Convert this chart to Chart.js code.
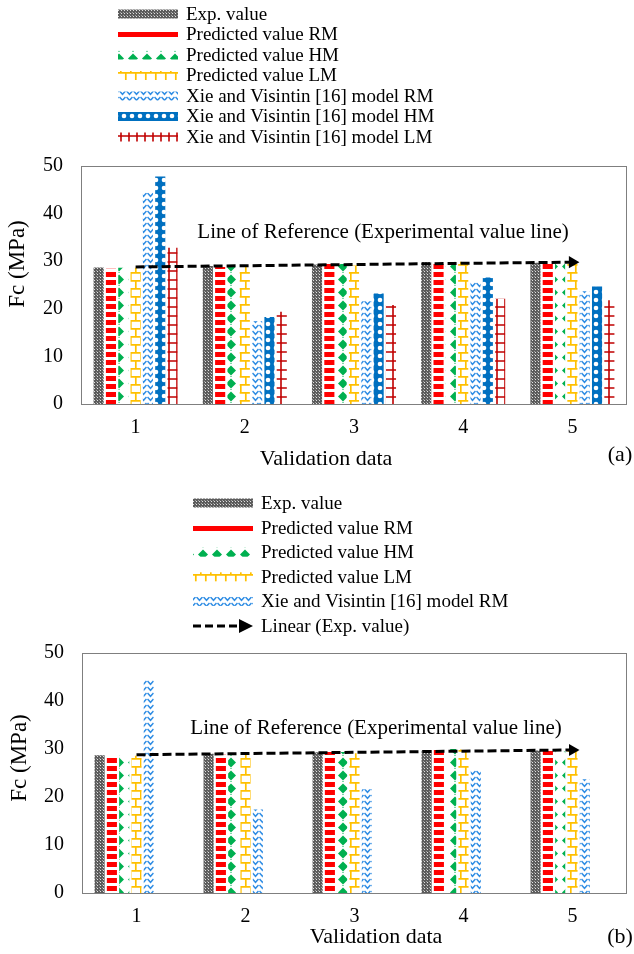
<!DOCTYPE html>
<html>
<head>
<meta charset="utf-8">
<script src="https://cdn.jsdelivr.net/npm/chart.js@4.4.0/dist/chart.umd.min.js"></script>
<style>
  body { margin: 0; background: #fff; }
  canvas { display: block; }
</style>
</head>
<body>
<canvas id="chartA" width="634" height="470"></canvas>
<canvas id="chartB" width="634" height="484"></canvas>
<script>
// ---- data ----
const categories = ['1', '2', '3', '4', '5'];
const expValue   = [28.7, 29.0, 29.3, 29.8, 29.7];
const predRM     = [28.4, 28.8, 29.4, 30.0, 29.6];
const predHM     = [28.6, 28.8, 29.4, 30.0, 29.5];
const predLM     = [28.6, 28.8, 29.1, 29.9, 29.7];
const xieRM      = [44.4, 17.4, 21.6, 25.5, 23.7];
const xieHM      = [47.8, 18.3, 23.2, 26.6, 24.7];
const xieLM      = [32.8, 19.4, 20.8, 22.1, 21.8];
const trendLine  = [28.8, null, null, null, 29.8]; // Linear (Exp. value), end points

const serif = "'Liberation Serif', 'Times New Roman', serif";

// ---- Excel-like fill patterns ----
function makePattern(w, h, draw) {
  const c = document.createElement('canvas');
  c.width = w; c.height = h;
  const g = c.getContext('2d');
  g.fillStyle = '#fff';
  g.fillRect(0, 0, w, h);
  draw(g);
  return g.createPattern(c, 'repeat');
}

const patExp = makePattern(3, 3, g => {
  g.fillStyle = '#5c5c5c'; g.fillRect(0, 0, 3, 3);
  g.fillStyle = '#e2e2e2'; g.fillRect(1, 1, 1, 1);
  g.fillStyle = '#a0a0a0'; g.fillRect(0, 0, 1, 1);
});
const patRM = makePattern(4, 8, g => {
  g.fillStyle = '#ff0000'; g.fillRect(0, 0, 4, 5);
});
const patHM = makePattern(14, 13, g => {
  g.fillStyle = '#00b050';
  g.beginPath();
  g.moveTo(7, 1.5); g.lineTo(12, 6.5); g.lineTo(7, 11.5); g.lineTo(2, 6.5);
  g.closePath(); g.fill();
  g.fillRect(6.5, 12, 1, 1);
});
const patLM = makePattern(10, 16, g => {
  g.strokeStyle = '#ffc000'; g.lineWidth = 1.7;
  g.beginPath();
  g.moveTo(0, 0.8); g.lineTo(10, 0.8);
  g.moveTo(0, 8.8); g.lineTo(10, 8.8);
  g.moveTo(0.8, 0); g.lineTo(0.8, 8.8);
  g.moveTo(5.8, 8.8); g.lineTo(5.8, 16);
  g.stroke();
});
const patXieRM = makePattern(7, 6, g => {
  g.strokeStyle = '#2f8de4'; g.lineWidth = 1.5;
  g.beginPath();
  g.moveTo(0.5, 1); g.lineTo(3.5, 4.3); g.lineTo(6.5, 1);
  g.stroke();
});
const patXieHM = makePattern(8, 8, g => {
  g.fillStyle = '#0070c0'; g.fillRect(0, 0, 8, 8);
  g.fillStyle = '#fff';
  g.beginPath(); g.arc(4, 4, 2.3, 0, Math.PI * 2); g.fill();
});
const patXieLM = makePattern(8, 9, g => {
  g.strokeStyle = '#c00000'; g.lineWidth = 1.6;
  g.beginPath();
  g.moveTo(1, 0); g.lineTo(1, 9);
  g.moveTo(0, 1); g.lineTo(8, 1);
  g.stroke();
});

function bar(label, data, pattern, inLegend = true) {
  return { type: 'bar', label, data, backgroundColor: pattern, borderWidth: 0, order: 1, inLegend };
}

function trend(inLegend) {
  return {
    type: 'line', label: 'Linear (Exp. value)', data: trendLine, spanGaps: true,
    borderColor: '#000', borderWidth: 3, borderDash: [9, 4], tension: 0,
    pointRadius: [0, 0, 0, 0, 7], pointStyle: 'triangle', rotation: 90,
    pointBackgroundColor: '#000', pointBorderWidth: 0, order: 0, inLegend, isTrend: true
  };
}

// frame, legend column and free texts
const figureDecor = {
  id: 'figureDecor',
  beforeDraw(chart) {
    const ctx = chart.ctx;
    ctx.save(); ctx.fillStyle = '#fff';
    ctx.fillRect(0, 0, chart.width, chart.height); ctx.restore();
  },
  afterDatasetsDraw(chart, args, o) {
    const ctx = chart.ctx, a = chart.chartArea;
    ctx.save();
    ctx.strokeStyle = '#7f7f7f'; ctx.lineWidth = 1;
    ctx.strokeRect(Math.round(a.left) + 0.5, Math.round(a.top) + 0.5,
      Math.round(a.right - a.left) - 1, Math.round(a.bottom - a.top));

    ctx.fillStyle = '#000';
    ctx.textAlign = 'center'; ctx.textBaseline = 'middle';
    for (const t of o.texts) {
      ctx.font = t.size + 'px ' + serif;
      ctx.save();
      ctx.translate(t.x, t.y);
      if (t.rotate) ctx.rotate(-Math.PI / 2);
      ctx.fillText(t.text, 0, 0);
      ctx.restore();
    }

    // legend, one item per row
    ctx.textAlign = 'left';
    ctx.font = '19px ' + serif;
    let y = o.legend.y;
    chart.data.datasets.forEach(ds => {
      if (!ds.inLegend) return;
      const x = o.legend.x;
      if (ds.isTrend) {
        ctx.save();
        ctx.strokeStyle = '#000'; ctx.lineWidth = 3; ctx.setLineDash([8, 4]);
        ctx.beginPath(); ctx.moveTo(x, y); ctx.lineTo(x + 48, y); ctx.stroke();
        ctx.setLineDash([]);
        ctx.beginPath(); ctx.moveTo(x + 60, y); ctx.lineTo(x + 46, y - 7); ctx.lineTo(x + 46, y + 7);
        ctx.closePath(); ctx.fill();
        ctx.restore();
      } else {
        ctx.fillStyle = ds.backgroundColor;
        ctx.fillRect(x, y - 4.5, 60, 9);
      }
      ctx.fillStyle = '#000';
      ctx.fillText(ds.label, x + 68, y + 1);
      y += o.legend.gap;
    });
    ctx.restore();
  }
};

function makeChart(id, datasets, L) {
  return new Chart(document.getElementById(id), {
    data: { labels: categories, datasets },
    options: {
      responsive: false,
      animation: false,
      layout: { padding: { top: L.top, right: 1, left: 0, bottom: 0 } },
      datasets: { bar: { categoryPercentage: 0.79, barPercentage: 0.82 } },
      scales: {
        x: {
          grid: { display: false, drawTicks: false },
          border: { display: false },
          ticks: { color: '#000', padding: 12, font: { family: serif, size: 20 } },
          afterFit: s => { s.height = L.xHeight; }
        },
        y: {
          min: 0, max: 50,
          grid: { display: false, drawTicks: false },
          border: { display: false },
          ticks: { stepSize: 10, color: '#000', padding: 18, font: { family: serif, size: 20 } },
          afterFit: s => { s.width = L.yWidth; }
        }
      },
      plugins: {
        legend: { display: false },
        tooltip: { enabled: false },
        figureDecor: { legend: L.legend, texts: L.texts }
      }
    },
    plugins: [figureDecor]
  });
}

makeChart('chartA', [
  bar('Exp. value', expValue, patExp),
  bar('Predicted value RM', predRM, patRM),
  bar('Predicted value HM', predHM, patHM),
  bar('Predicted value LM', predLM, patLM),
  bar('Xie and Visintin [16] model RM', xieRM, patXieRM),
  bar('Xie and Visintin [16] model HM', xieHM, patXieHM),
  bar('Xie and Visintin [16] model LM', xieLM, patXieLM),
  trend(false)
], {
  top: 166, xHeight: 66, yWidth: 81,
  legend: { x: 118, y: 14, gap: 20.5 },
  texts: [
    { text: 'Line of Reference (Experimental value line)', x: 383, y: 232, size: 21 },
    { text: 'Fc (MPa)', x: 18, y: 264, size: 23, rotate: true },
    { text: 'Validation data', x: 326, y: 459, size: 22 },
    { text: '(a)', x: 620, y: 455, size: 22 }
  ]
});

makeChart('chartB', [
  bar('Exp. value', expValue, patExp),
  bar('Predicted value RM', predRM, patRM),
  bar('Predicted value HM', predHM, patHM),
  bar('Predicted value LM', predLM, patLM),
  bar('Xie and Visintin [16] model RM', xieRM, patXieRM),
  bar('', [], '#fff', false),   // empty slots kept from the 7-series layout
  bar('', [], '#fff', false),
  trend(true)
], {
  top: 183, xHeight: 61, yWidth: 82,
  legend: { x: 193, y: 33, gap: 24.6 },
  texts: [
    { text: 'Line of Reference (Experimental value line)', x: 376, y: 258, size: 21 },
    { text: 'Fc (MPa)', x: 20, y: 288, size: 23, rotate: true },
    { text: 'Validation data', x: 376, y: 467, size: 22 },
    { text: '(b)', x: 620, y: 467, size: 22 }
  ]
});
</script>
</body>
</html>
